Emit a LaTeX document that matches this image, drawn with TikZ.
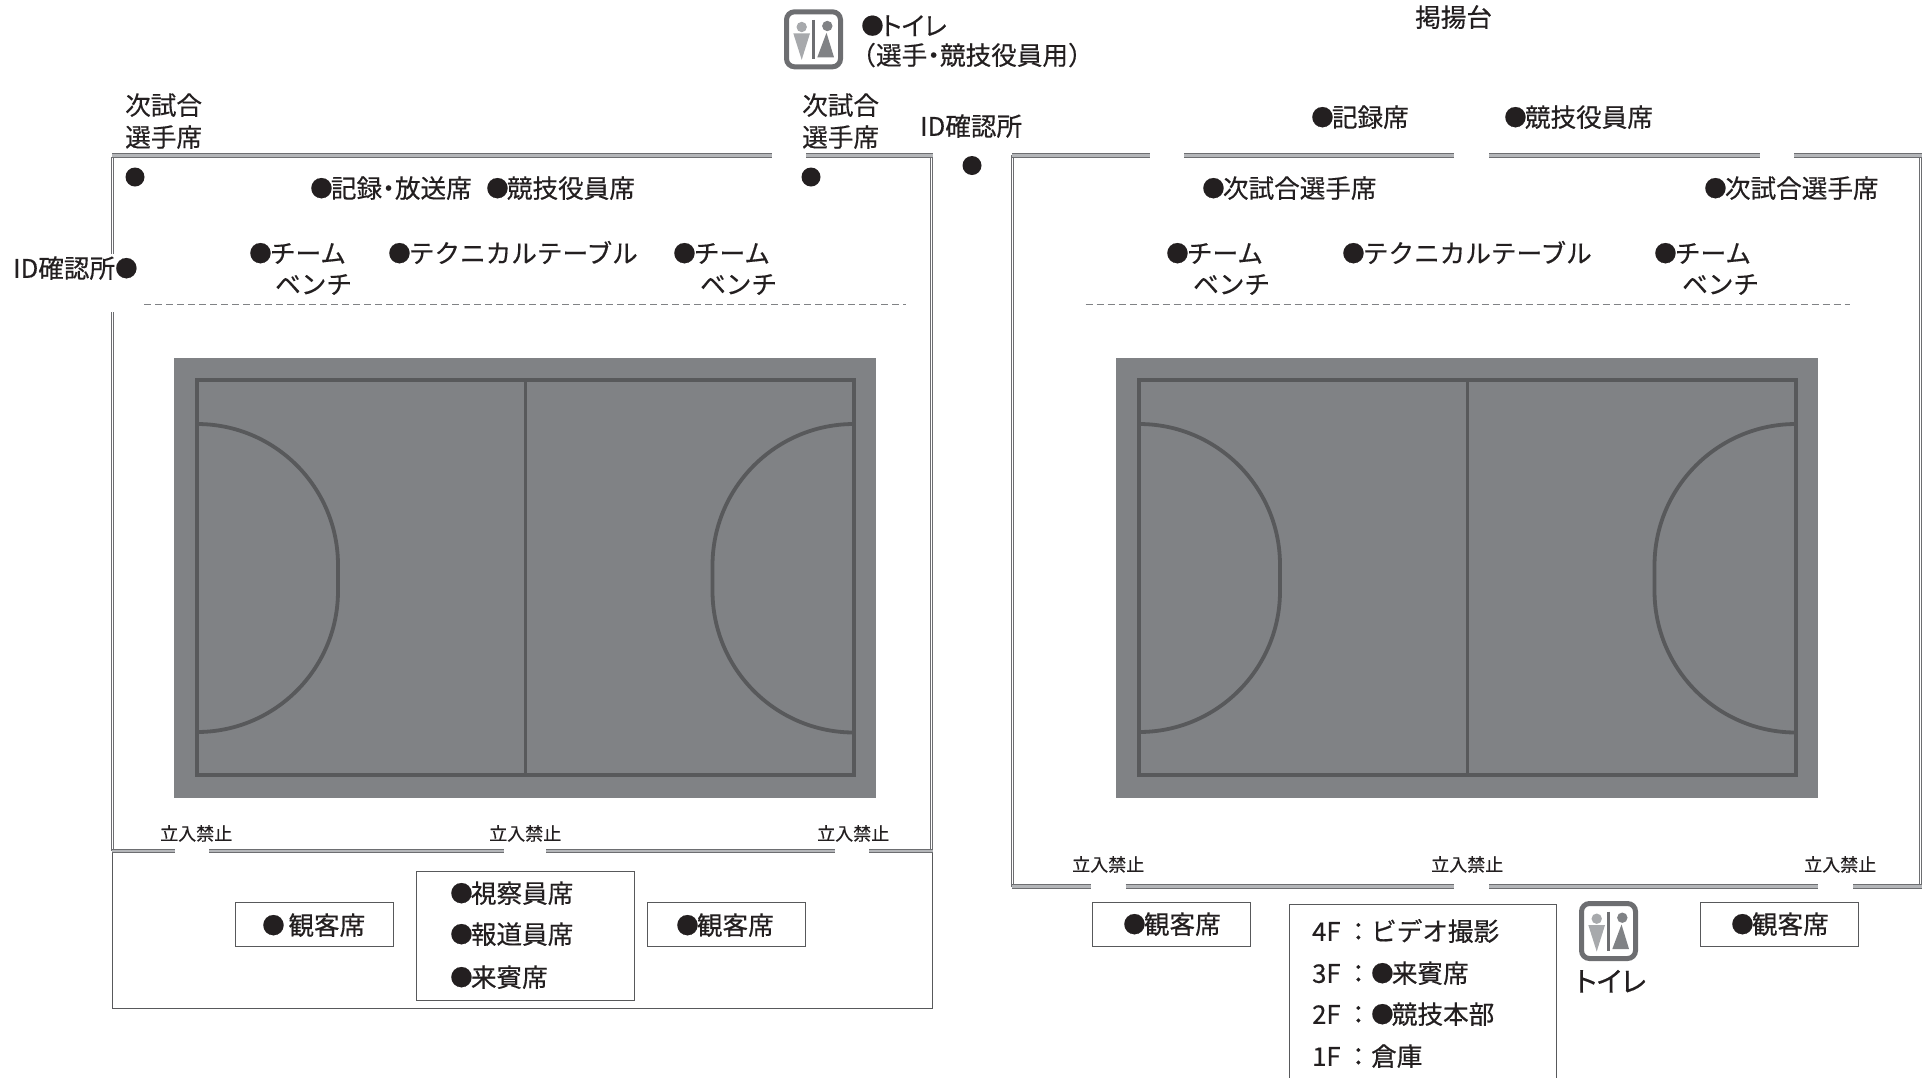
\documentclass[tikz,border=0pt]{standalone}
\usepackage{fontspec}
\setmainfont{Noto Sans CJK JP}[RawFeature=+palt,FakeBold=0.4]
\newfontfamily\fw{Noto Sans CJK JP}[FakeBold=0.4]
\definecolor{courtfill}{HTML}{808285}
\definecolor{courtline}{HTML}{58595B}
\definecolor{wallgray}{HTML}{A7A9AC}
\definecolor{walllight}{HTML}{B4B6B9}
\definecolor{framegray}{HTML}{6D6E71}
\definecolor{inkdark}{HTML}{231F20}
\newcommand{\bu}{\raisebox{1.1pt}{\scalebox{0.88}{●}}\kern-1.8pt}
\tikzset{
  lab/.style={anchor=west,inner sep=0pt,yshift=-0.3pt,font=\fontsize{25.6}{25.6}\selectfont,text=inkdark,text height=22pt,text depth=3pt},
  small/.style={anchor=west,inner sep=0pt,yshift=-0.3pt,font=\fontsize{18}{18}\selectfont,text=inkdark,text height=16pt,text depth=2pt},
  seatbox/.style={draw=courtline,line width=1pt,fill=white},
  wall/.style={draw=framegray,double=walllight,line width=0.8pt,double distance=2.6pt},
  wallside/.style={draw=framegray,double=white,line width=0.8pt,double distance=1.4pt},
  wallthin/.style={courtline,line width=1pt},
  dashline/.style={courtfill,line width=1.5pt,dash pattern=on 7pt off 4pt},
  dotmark/.style={circle,fill=inkdark,inner sep=0pt,minimum size=19pt},
  courtmark/.style={courtline,line width=3.8pt},
  iconframe/.style={draw=framegray,line width=5pt,rounded corners=8pt,fill=white}
}
\newcommand{\court}[1]{%
  \begin{scope}[xshift=#1]
    \fill[courtfill] (174,358) rectangle (876,797.5);
    \draw[courtmark] (197,380) rectangle (854,775);
    \draw[courtmark] (525.5,380) -- (525.5,775);
    \draw[courtmark] (197,424) arc[start angle=-90,end angle=0,radius=141] -- (338,591) arc[start angle=0,end angle=90,radius=141];
    \draw[courtmark] (854,424) arc[start angle=270,end angle=180,radius=141.5] -- (712.5,591) arc[start angle=180,end angle=90,radius=141.5];
  \end{scope}}
\newcommand{\wc}[2]{%
  \begin{scope}[shift={(#1,#2)}]
    \draw[iconframe] (0,0) rectangle (54,55);
    \fill[wallgray] (15.2,15.2) circle[radius=5.2];
    \fill[wallgray] (6.8,21.5) -- (23.5,21.5) -- (15.2,48) -- cycle;
    \fill[courtfill] (40.8,14.2) circle[radius=5.2];
    \fill[courtfill] (40,21) -- (47.5,45.5) -- (30.8,45.5) -- cycle;
    \draw[framegray,line width=2.5pt] (26.8,8) -- (26.8,47);
  \end{scope}}
\begin{document}
\begin{tikzpicture}[x=1pt,y=-1pt]
\useasboundingbox (0,0) rectangle (1924,1077);
\court{0pt}
\court{942pt}
% Left hall walls
\draw[wallside] (112.5,254) -- (112.5,157);
\draw[wallside] (112.5,312) -- (112.5,851);
\draw[wallside] (931.5,155) -- (931.5,851);
\draw[wallthin] (112.5,851) -- (112.5,1008) -- (932.5,1008) -- (932.5,851);
\draw[wall] (112,155.5) -- (771.5,155.5);
\draw[wall] (806,155.5) -- (933,155.5);
\draw[wall] (112,851) -- (175,851);
\draw[wall] (209,851) -- (504,851);
\draw[wall] (546,851) -- (835,851);
\draw[wall] (869,851) -- (933,851);
% Right hall walls
\draw[wallside] (1012.5,155) -- (1012.5,886.5);
\draw[wallside] (1920.5,155) -- (1920.5,886.5);
\draw[wall] (1012,155.5) -- (1150,155.5);
\draw[wall] (1184,155.5) -- (1454,155.5);
\draw[wall] (1489,155.5) -- (1760,155.5);
\draw[wall] (1794,155.5) -- (1922,155.5);
\draw[wall] (1012,886.5) -- (1091,886.5);
\draw[wall] (1125.5,886.5) -- (1454,886.5);
\draw[wall] (1489,886.5) -- (1818,886.5);
\draw[wall] (1853,886.5) -- (1922,886.5);
% Dashed lines
\draw[dashline] (144,304.5) -- (906,304.5);
\draw[dashline] (1085.5,304.5) -- (1850,304.5);
% Seat boxes
\draw[seatbox] (235,902) rectangle (393,946);
\draw[seatbox] (416,871) rectangle (634,1000);
\draw[seatbox] (647,902) rectangle (805,946);
\draw[seatbox] (1092.5,902) rectangle (1250,946);
\draw[seatbox] (1700.5,902) rectangle (1858.5,946);
\draw[seatbox] (1289.5,1078.5) -- (1289.5,904) -- (1556,904) -- (1556,1078.5);
% Toilet icons
\wc{786.5}{11.8}
\wc{1581.5}{903.5}
% Dots
\node[dotmark] (d1) at (135,177) {};
\node[dotmark] (d2) at (811,177) {};
\node[dotmark] (d3) at (972,165.5) {};
% Labels left
\node[lab] (a1) at (125,105) {次試合};
\node[lab] (a2) at (125,137) {選手席};
\node[lab] (a3) at (802,105) {次試合};
\node[lab] (a4) at (802,137) {選手席};
\node[lab] (a5) at (310,188) {\bu 記録・放送席};
\node[lab] (a6) at (486,188) {\bu 競技役員席};
\node[lab] (a7) at (13,268) {ID確認所\bu};
\node[lab] (a8) at (249,253) {\bu{\fw チーム}};
\node[lab] (a9) at (275,284) {\fw ベンチ};
\node[lab] (a10) at (388,253) {\bu{\fw テクニカルテーブル}};
\node[lab] (a11) at (673,253) {\bu{\fw チーム}};
\node[lab] (a12) at (700,284) {\fw ベンチ};
% Top
\node[lab] (t1) at (861,25.5) {\bu トイレ};
\node[lab] (t2) at (862,55) {（\kern1pt 選手・競技役員用\kern1pt）};
\node[lab] (t3) at (920,126) {ID確認所};
\node[lab] (t4) at (1415,17) {掲揚台};
% Labels right
\node[lab] (b1) at (1311,117) {\bu 記録席};
\node[lab] (b2) at (1504,117) {\bu 競技役員席};
\node[lab] (b3) at (1202,188) {\bu 次試合選手席};
\node[lab] (b4) at (1704,188) {\bu 次試合選手席};
\node[lab] (b5) at (1166,253) {\bu{\fw チーム}};
\node[lab] (b6) at (1193,284) {\fw ベンチ};
\node[lab] (b7) at (1342,253) {\bu{\fw テクニカルテーブル}};
\node[lab] (b8) at (1654,253) {\bu{\fw チーム}};
\node[lab] (b9) at (1682,284) {\fw ベンチ};
% No entry
\node[small] (n1) at (160,833) {立入禁止};
\node[small] (n2) at (489,833) {立入禁止};
\node[small] (n3) at (817,833) {立入禁止};
\node[small] (n4) at (1072,864) {立入禁止};
\node[small] (n5) at (1431,864) {立入禁止};
\node[small] (n6) at (1804,864) {立入禁止};
% Box texts
\node[lab] (c1) at (262,925) {\bu\kern5.5pt 観客席};
\node[lab] (c2) at (676,925) {\bu 観客席};
\node[lab] (c3) at (450,893) {\bu 視察員席};
\node[lab] (c4) at (450,934) {\bu 報道員席};
\node[lab] (c5) at (450,977) {\bu 来賓席};
\node[lab] (c6) at (1123,924) {\bu 観客席};
\node[lab] (c7) at (1731,924) {\bu 観客席};
\node[lab] (e1) at (1312,931) {4F\kern5pt{\fw ：ビデオ撮影}};
\node[lab] (e2) at (1312,973) {3F\kern5pt{\fw ：}\bu 来賓席};
\node[lab] (e3) at (1312,1014) {2F\kern5pt{\fw ：}\bu 競技本部};
\node[lab] (e4) at (1312,1056) {1F\kern5pt{\fw ：}倉庫};
\node[lab,font=\fontsize{28}{28}\selectfont] (e5) at (1575,982) {トイレ};
\end{tikzpicture}
\end{document}
